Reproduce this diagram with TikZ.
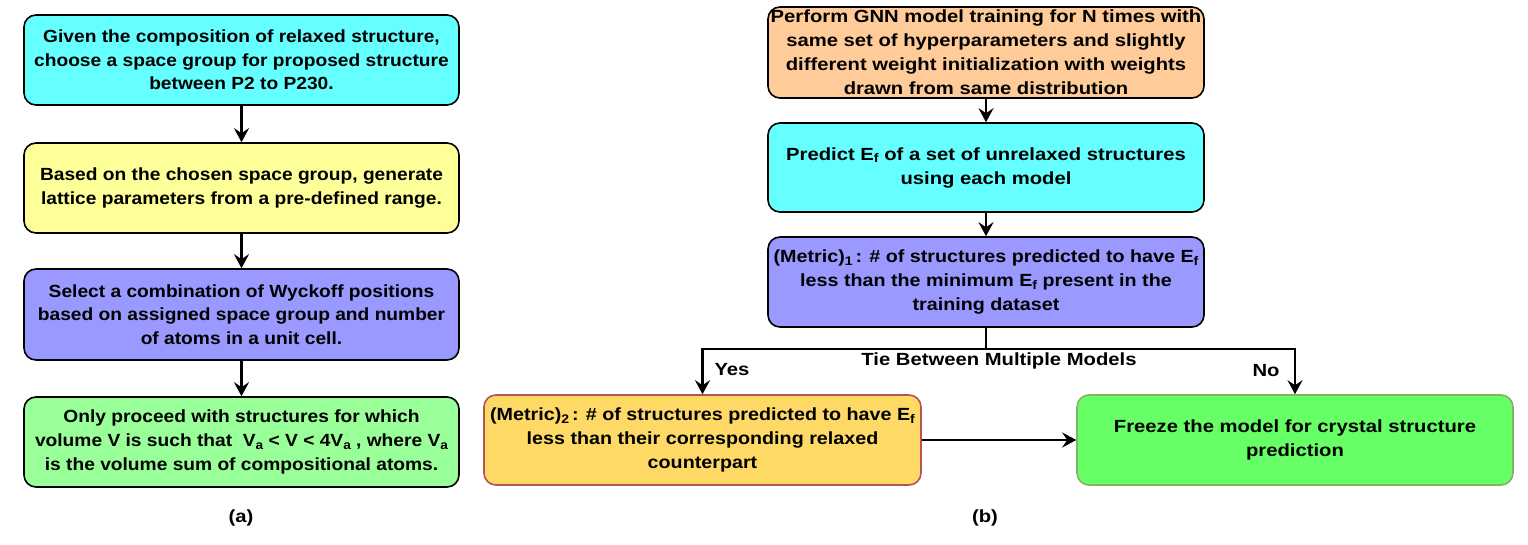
\documentclass[tikz,border=0pt]{standalone}
\usepackage{fontspec}
\setmainfont{Liberation Sans}
\newfontfamily\fa[FakeStretch=1.09]{Liberation Sans}
\newfontfamily\fb[FakeStretch=1.15]{Liberation Sans}
\newfontfamily\fc[FakeStretch=1.12]{Liberation Sans}
\usetikzlibrary{arrows.meta}
\definecolor{cyanA}{HTML}{66FFFF}
\definecolor{yelA}{HTML}{FFFF99}
\definecolor{purA}{HTML}{9999FF}
\definecolor{grnA}{HTML}{99FF99}
\definecolor{orgA}{HTML}{FFCC99}
\definecolor{yelB}{HTML}{FFD966}
\definecolor{yelBd}{HTML}{B85450}
\definecolor{grnB}{HTML}{66FF66}
\definecolor{grnBd}{HTML}{82B366}
\newcommand{\lsub}[1]{\raisebox{-0.32ex}{\fontsize{12.5}{12.5}\selectfont #1}}
\begin{document}
\begin{tikzpicture}[x=1pt,y=-1pt,
  box/.style={draw=black, line width=1.6pt, rounded corners=12pt, align=center,
    font=\fa\bfseries\fontsize{17.6}{23.7}\selectfont, inner sep=0pt, minimum height=90pt},
  rbox/.style={box, font=\fb\bfseries\fontsize{17.6}{24}\selectfont},
  mbox/.style={box, font=\fc\bfseries\fontsize{17.6}{24}\selectfont},
  arr/.style={line width=2.6pt, -{Stealth[length=14pt,width=15pt,inset=5pt]}},
  conn/.style={line width=2.6pt},
  lab/.style={font=\fb\bfseries\fontsize{17.6}{20}\selectfont, inner sep=0pt}]
\useasboundingbox (0,0) rectangle (1528,544);
% (a)
\node[box, fill=cyanA, minimum width=435pt] (a1) at (241.5,60)
  {Given the composition of relaxed structure,\\choose a space group for proposed structure\\between P2 to P230.};
\node[box, fill=yelA, minimum width=435pt] (a2) at (241.5,188)
  {Based on the chosen space group, generate\\lattice parameters from a pre-defined range.};
\node[box, fill=purA, minimum width=435pt, minimum height=91pt] (a3) at (241.5,314.5)
  {Select a combination of Wyckoff positions\\based on assigned space group and number\\of atoms in a unit cell.};
\node[box, fill=grnA, minimum width=435pt] (a4) at (241.5,442)
  {Only proceed with structures for which\\volume V is such that ~V\lsub{a} < V < 4V\lsub{a} , where V\lsub{a}\\is the volume sum of compositional atoms.};
\draw[arr] (a1) -- (a2);
\draw[arr] (a2) -- (a3);
\draw[arr] (a3) -- (a4);
\node[lab] (la) at (241,518) {(a)};
% (b)
\node[rbox, fill=orgA, minimum width=436pt, minimum height=91pt] (b1) at (986,52.5)
  {Perform GNN model training for N times with\\same set of hyperparameters and slightly\\different weight initialization with weights\\drawn from same distribution};
\node[rbox, fill=cyanA, minimum width=436pt, minimum height=89pt] (b2) at (986,167.5)
  {Predict E\lsub{f} of a set of unrelaxed structures\\using each model};
\node[mbox, fill=purA, minimum width=436pt] (b3) at (986,282)
  {(Metric)\lsub{1}\,: \# of structures predicted to have E\lsub{f}\\less than the minimum E\lsub{f} present in the\\training dataset};
\node[mbox, fill=yelB, draw=yelBd, minimum width=437pt] (b4) at (702.5,440)
  {(Metric)\lsub{2}\,: \# of structures predicted to have E\lsub{f}\\less than their corresponding relaxed\\counterpart};
\node[rbox, fill=grnB, draw=grnBd, minimum width=436pt] (b5) at (1295,440)
  {Freeze the model for crystal structure\\prediction};
\coordinate (j) at (986,349);
\draw[arr] (b1) -- (b2);
\draw[arr] (b2) -- (b3);
\draw[conn] (b3) -- (j);
\draw[arr] (j) -| (b4.north);
\draw[arr] (j) -| (b5.north);
\draw[arr] (b4) -- (b5);
\node[lab] (tie) at (999,361) {Tie Between Multiple Models};
\node[lab] (yes) at (732,370) {Yes};
\node[lab] (no) at (1266,371) {No};
\node[lab] (lb) at (985,518) {(b)};
\end{tikzpicture}
\end{document}
